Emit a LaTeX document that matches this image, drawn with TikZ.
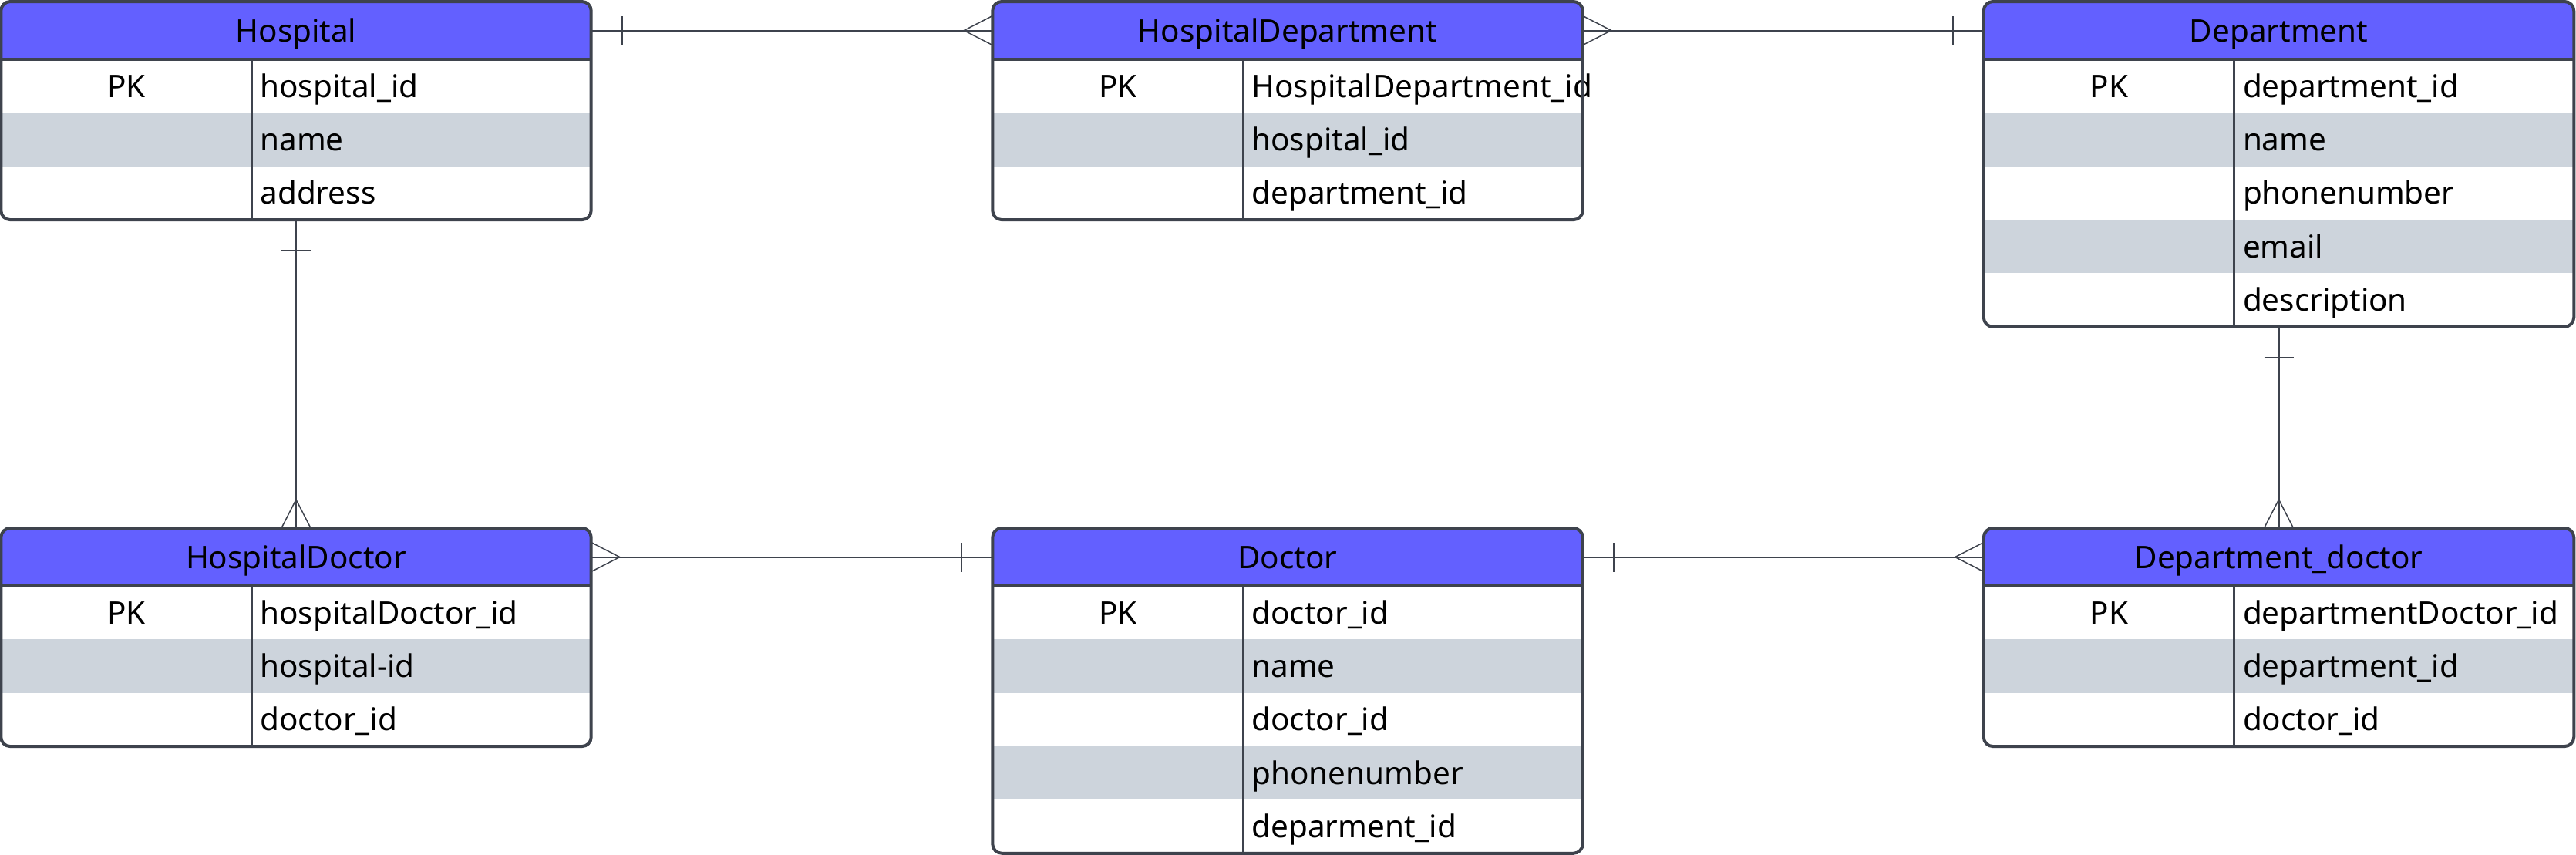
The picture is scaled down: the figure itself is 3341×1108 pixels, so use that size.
\documentclass[tikz,border=0pt]{standalone}
\usepackage{fontspec}
\setmainfont{Noto Sans}
\usetikzlibrary{positioning,calc,decorations.markings}
\hyphenpenalty=10000
\exhyphenpenalty=10000
\definecolor{headblue}{RGB}{99,96,255}
\definecolor{rowgray}{RGB}{205,212,220}
\definecolor{edgegray}{RGB}{62,67,77}

\begin{document}
\begin{tikzpicture}[x=0.01cm, y=-0.01cm,
				font=\fontsize{11.5}{14}\selectfont,
				tablebox/.style={rectangle, fill=headblue, rounded corners=0.12cm, minimum width=7.65cm, inner sep=0pt, outer sep=0pt, anchor=north},
				tablehead/.style={rectangle, minimum width=7.65cm, minimum height=0.75cm, text height=0.29cm, text depth=0pt, inner sep=0pt, outer sep=0pt},
				keycell/.style={rectangle, fill=white, minimum width=3.25cm, minimum height=0.693cm, text height=0.29cm, text depth=0pt, inner sep=0pt, outer sep=0pt},
				attrcell/.style={rectangle, fill=white, minimum height=0.693cm, text width=4.18cm, align=left, inner xsep=0.11cm, inner ysep=0pt, text height=0.29cm, text depth=0pt, outer sep=0pt},
				grayrow/.style={fill=rowgray},
				outline/.style={draw=edgegray, line width=0.04cm, rounded corners=0.12cm},
				headrule/.style={draw=edgegray, line width=0.04cm},
				colrule/.style={draw=edgegray, line width=0.03cm},
				conn/.style={draw=edgegray, line width=0.02cm},
				foot/.style={draw=edgegray, line width=0.015cm},
				one start/.style={postaction={decorate, decoration={markings, mark=at position 0.4cm with {\draw[foot] (0cm,-0.19cm) -- (0cm,0.19cm);}}}},
				one end/.style={postaction={decorate, decoration={markings, mark=at position -0.4cm with {\draw[foot] (0cm,-0.19cm) -- (0cm,0.19cm);}}}},
				many start/.style={postaction={decorate, decoration={markings, mark=at position 0.37cm with {\draw[foot] (-0.37cm,0.19cm) -- (0cm,0cm) -- (-0.37cm,-0.19cm);}}}},
				many end/.style={postaction={decorate, decoration={markings, mark=at position -0.37cm with {\draw[foot] (0.37cm,0.19cm) -- (0cm,0cm) -- (0.37cm,-0.19cm);}}}}
			]
			\useasboundingbox (0,0) rectangle (3341,1108);
			% Hospital
			\node[tablebox, minimum height=2.829cm] (hospital) at (384,2) {};
			\node[tablehead] (hospitalhead) [below=0pt of hospital.north] {Hospital};
			\node[keycell] (hospitalpk) [below right=0pt of hospitalhead.south west] {PK};
			\node[attrcell] (hospitalid) [right=0pt of hospitalpk] {hospital\_id};
			\node[keycell, grayrow] (hospitalk2) [below=0pt of hospitalpk] {};
			\node[attrcell, grayrow] (hospitalname) [right=0pt of hospitalk2] {name};
			\node[keycell] (hospitalk3) [below=0pt of hospitalk2] {};
			\node[attrcell] (hospitaladdress) [right=0pt of hospitalk3] {address};
			\draw[headrule] (hospitalhead.south west) -- (hospitalhead.south east);
			\draw[colrule] (hospitalpk.north east) -- (hospitalk3.south east);
			\draw[outline] (hospitalhead.north west) rectangle (hospitaladdress.south east);
			% HospitalDepartment
			\node[tablebox, minimum height=2.829cm] (hospdept) at (1670,2) {};
			\node[tablehead] (hospdepthead) [below=0pt of hospdept.north] {HospitalDepartment};
			\node[keycell] (hospdeptpk) [below right=0pt of hospdepthead.south west] {PK};
			\node[attrcell] (hospdeptid) [right=0pt of hospdeptpk] {HospitalDepartment\_id};
			\node[keycell, grayrow] (hospdeptk2) [below=0pt of hospdeptpk] {};
			\node[attrcell, grayrow] (hospdepthosp) [right=0pt of hospdeptk2] {hospital\_id};
			\node[keycell] (hospdeptk3) [below=0pt of hospdeptk2] {};
			\node[attrcell] (hospdeptdept) [right=0pt of hospdeptk3] {department\_id};
			\draw[headrule] (hospdepthead.south west) -- (hospdepthead.south east);
			\draw[colrule] (hospdeptpk.north east) -- (hospdeptk3.south east);
			\draw[outline] (hospdepthead.north west) rectangle (hospdeptdept.south east);
			% Department
			\node[tablebox, minimum height=4.215cm] (department) at (2955.5,2) {};
			\node[tablehead] (departmenthead) [below=0pt of department.north] {Department};
			\node[keycell] (departmentpk) [below right=0pt of departmenthead.south west] {PK};
			\node[attrcell] (departmentid) [right=0pt of departmentpk] {department\_id};
			\node[keycell, grayrow] (departmentk2) [below=0pt of departmentpk] {};
			\node[attrcell, grayrow] (departmentname) [right=0pt of departmentk2] {name};
			\node[keycell] (departmentk3) [below=0pt of departmentk2] {};
			\node[attrcell] (departmentphone) [right=0pt of departmentk3] {phonenumber};
			\node[keycell, grayrow] (departmentk4) [below=0pt of departmentk3] {};
			\node[attrcell, grayrow] (departmentemail) [right=0pt of departmentk4] {email};
			\node[keycell] (departmentk5) [below=0pt of departmentk4] {};
			\node[attrcell] (departmentdesc) [right=0pt of departmentk5] {description};
			\draw[headrule] (departmenthead.south west) -- (departmenthead.south east);
			\draw[colrule] (departmentpk.north east) -- (departmentk5.south east);
			\draw[outline] (departmenthead.north west) rectangle (departmentdesc.south east);
			% HospitalDoctor
			\node[tablebox, minimum height=2.829cm] (hospdoc) at (384,685) {};
			\node[tablehead] (hospdochead) [below=0pt of hospdoc.north] {HospitalDoctor};
			\node[keycell] (hospdocpk) [below right=0pt of hospdochead.south west] {PK};
			\node[attrcell] (hospdocid) [right=0pt of hospdocpk] {hospitalDoctor\_id};
			\node[keycell, grayrow] (hospdock2) [below=0pt of hospdocpk] {};
			\node[attrcell, grayrow] (hospdochosp) [right=0pt of hospdock2] {hospital-id};
			\node[keycell] (hospdock3) [below=0pt of hospdock2] {};
			\node[attrcell] (hospdocdoc) [right=0pt of hospdock3] {doctor\_id};
			\draw[headrule] (hospdochead.south west) -- (hospdochead.south east);
			\draw[colrule] (hospdocpk.north east) -- (hospdock3.south east);
			\draw[outline] (hospdochead.north west) rectangle (hospdocdoc.south east);
			% Doctor
			\node[tablebox, minimum height=4.215cm] (doctor) at (1670,685) {};
			\node[tablehead] (doctorhead) [below=0pt of doctor.north] {Doctor};
			\node[keycell] (doctorpk) [below right=0pt of doctorhead.south west] {PK};
			\node[attrcell] (doctorid) [right=0pt of doctorpk] {doctor\_id};
			\node[keycell, grayrow] (doctork2) [below=0pt of doctorpk] {};
			\node[attrcell, grayrow] (doctorname) [right=0pt of doctork2] {name};
			\node[keycell] (doctork3) [below=0pt of doctork2] {};
			\node[attrcell] (doctorid2) [right=0pt of doctork3] {doctor\_id};
			\node[keycell, grayrow] (doctork4) [below=0pt of doctork3] {};
			\node[attrcell, grayrow] (doctorphone) [right=0pt of doctork4] {phonenumber};
			\node[keycell] (doctork5) [below=0pt of doctork4] {};
			\node[attrcell] (doctordept) [right=0pt of doctork5] {deparment\_id};
			\draw[headrule] (doctorhead.south west) -- (doctorhead.south east);
			\draw[colrule] (doctorpk.north east) -- (doctork5.south east);
			\draw[outline] (doctorhead.north west) rectangle (doctordept.south east);
			% Department_doctor
			\node[tablebox, minimum height=2.829cm] (deptdoc) at (2955.5,685) {};
			\node[tablehead] (deptdochead) [below=0pt of deptdoc.north] {Department\_doctor};
			\node[keycell] (deptdocpk) [below right=0pt of deptdochead.south west] {PK};
			\node[attrcell] (deptdocid) [right=0pt of deptdocpk] {departmentDoctor\_id};
			\node[keycell, grayrow] (deptdock2) [below=0pt of deptdocpk] {};
			\node[attrcell, grayrow] (deptdocdept) [right=0pt of deptdock2] {department\_id};
			\node[keycell] (deptdock3) [below=0pt of deptdock2] {};
			\node[attrcell] (deptdocdoc) [right=0pt of deptdock3] {doctor\_id};
			\draw[headrule] (deptdochead.south west) -- (deptdochead.south east);
			\draw[colrule] (deptdocpk.north east) -- (deptdock3.south east);
			\draw[outline] (deptdochead.north west) rectangle (deptdocdoc.south east);
			% relations
			\begin{scope}[conn]
			\draw[one start, many end] (hospitalhead.east) -- (hospdepthead.west);
			\draw[many start, one end] (hospdepthead.east) -- (departmenthead.west);
			\draw[one start, many end] (hospital.south) -- (hospdoc.north);
			\draw[one start, many end] (department.south) -- (deptdoc.north);
			\draw[many start, one end] (hospdochead.east) -- (doctorhead.west);
			\draw[one start, many end] (doctorhead.east) -- (deptdochead.west);
			\end{scope}
\end{tikzpicture}
\end{document}
